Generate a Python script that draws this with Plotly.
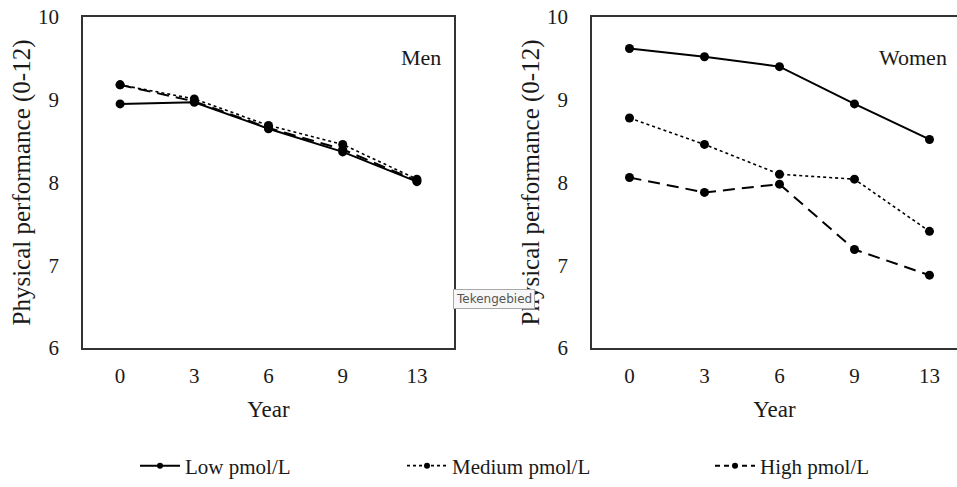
import plotly.graph_objects as go

years = ["0", "3", "6", "9", "13"]
y_ticks = [6, 7, 8, 9, 10]

men_low = [8.95, 8.97, 8.65, 8.37, 8.01]
men_medium = [9.18, 9.01, 8.69, 8.46, 8.04]
men_high = [9.18, 8.98, 8.66, 8.40, 8.02]

women_low = [9.62, 9.52, 9.40, 8.95, 8.52]
women_medium = [8.78, 8.46, 8.10, 8.04, 7.41]
women_high = [8.06, 7.88, 7.98, 7.19, 6.88]

series_names = ["Low pmol/L", "Medium pmol/L", "High pmol/L"]
dashes = ["solid", "dot", "12px,7px"]
legend_dashes = ["solid", "dot", "5px,4px"]
widths = [2, 1.6, 2]
legends = ["legend", "legend2", "legend3"]

FONT = "Liberation Serif"
INK = "#1a1a1a"

W, H = 957, 487


def px(x):
    return x / W


def py(y):
    return 1 - y / H


fig = go.Figure()

for data, xa, ya in [((men_low, men_medium, men_high), "x", "y"),
                     ((women_low, women_medium, women_high), "x2", "y2")]:
    for vals, name, dash, w in zip(data, series_names, dashes, widths):
        fig.add_trace(go.Scatter(
            x=years, y=vals, name=name, mode="lines+markers",
            line=dict(color="black", width=w, dash=dash),
            marker=dict(color="black", size=9),
            xaxis=xa, yaxis=ya, showlegend=False, hoverinfo="skip"))

# legend entries
for name, dash, w, lg in zip(series_names, legend_dashes, widths, legends):
    fig.add_trace(go.Scatter(
        x=[None], y=[None], name=name, mode="lines+markers",
        line=dict(color="black", width=w, dash=dash),
        marker=dict(color="black", size=6),
        legend=lg, showlegend=True, xaxis="x", yaxis="y"))

ydom = [py(348), py(17)]
axis_common = dict(
    showline=True, linecolor="#333333", linewidth=1.5,
    showgrid=False, zeroline=False, ticks="", automargin=False,
    ticklabeloverflow="allow",
    tickfont=dict(family=FONT, size=21, color=INK),
)
ytitle_font = dict(family=FONT, size=25, color=INK)
xtitle_font = dict(family=FONT, size=23, color=INK)
legend_font = dict(family=FONT, size=21, color=INK)
ly = py(466)

fig.update_layout(
    width=W, height=H,
    margin=dict(l=0, r=0, t=0, b=0, autoexpand=False),
    paper_bgcolor="white", plot_bgcolor="white",
    font=dict(family=FONT, color=INK),
    xaxis=dict(domain=[px(83), px(454)], type="category", range=[-0.5, 4.5],
               mirror=True, anchor="y", ticklabelstandoff=8,
               title=dict(text="Year", font=xtitle_font, standoff=14),
               **axis_common),
    yaxis=dict(domain=ydom, range=[6, 10], tickvals=y_ticks, mirror=True, anchor="x",
               ticklabelstandoff=18,
               title=dict(text="Physical performance (0-12)", font=ytitle_font, standoff=0),
               **axis_common),
    xaxis2=dict(domain=[px(592), 1], type="category", range=[-0.5, 4.367],
                mirror=True, anchor="y2", ticklabelstandoff=8,
                title=dict(text="Year", font=xtitle_font, standoff=14),
                **axis_common),
    yaxis2=dict(domain=ydom, range=[6, 10], tickvals=y_ticks, mirror=False, anchor="x2",
                ticklabelstandoff=18,
                title=dict(text="Physical performance (0-12)", font=ytitle_font, standoff=0),
                **axis_common),
    legend=dict(orientation="h", x=px(135), y=ly, yanchor="middle", xanchor="left",
                itemwidth=40, font=legend_font, bgcolor="rgba(0,0,0,0)"),
    legend2=dict(orientation="h", x=px(402), y=ly, yanchor="middle", xanchor="left",
                 itemwidth=40, font=legend_font, bgcolor="rgba(0,0,0,0)"),
    legend3=dict(orientation="h", x=px(710), y=ly, yanchor="middle", xanchor="left",
                 itemwidth=40, font=legend_font, bgcolor="rgba(0,0,0,0)"),
    annotations=[
        dict(text="Men", xref="x", yref="y", x=4.05, y=9.51, showarrow=False,
             font=dict(family=FONT, size=22, color=INK)),
        dict(text="Women", xref="x2", yref="y2", x=3.78, y=9.51, showarrow=False,
             font=dict(family=FONT, size=22, color=INK)),
        dict(text="Tekengebied", xref="paper", yref="paper", x=px(494), y=py(299),
             showarrow=False, font=dict(family="DejaVu Sans", size=12, color="#555555"),
             bgcolor="#f7f7f7", bordercolor="#a8a8a8", borderwidth=1, borderpad=2),
    ],
)

fig.write_html("out.html", config={"displayModeBar": False},
               post_script="document.body.style.margin='0';")
